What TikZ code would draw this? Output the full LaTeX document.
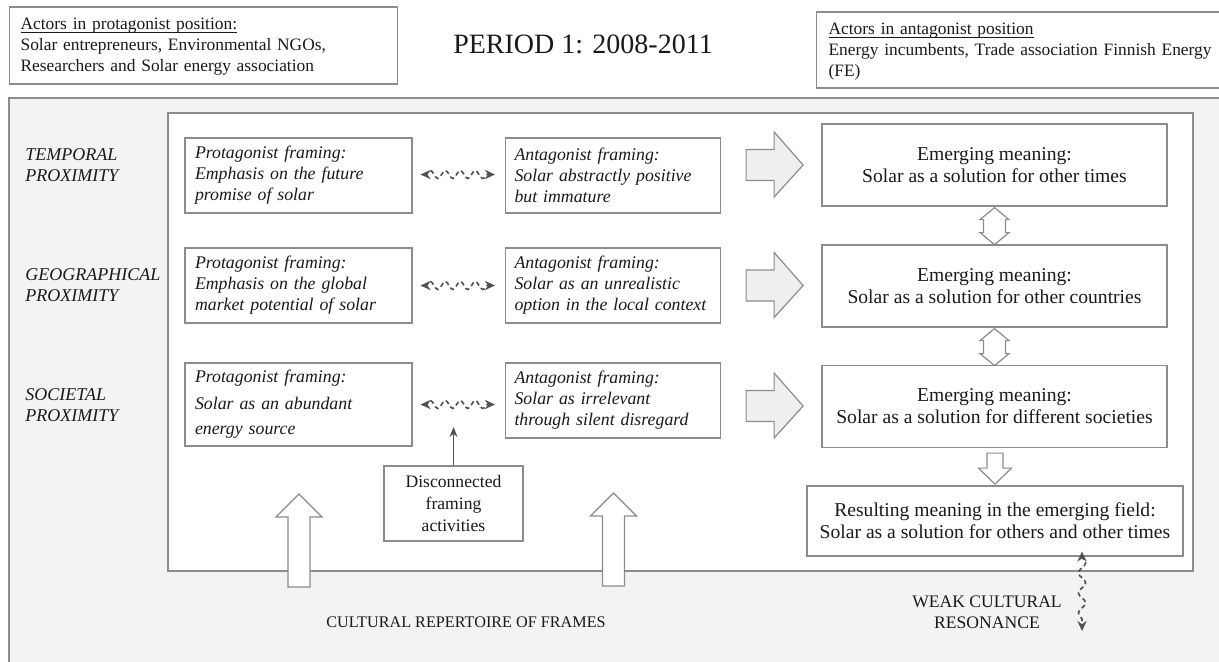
\documentclass[tikz,border=0pt]{standalone}
\usepackage{fontspec}
\setmainfont{Liberation Serif}
\usetikzlibrary{calc,decorations.pathmorphing,arrows.meta}

\definecolor{ink}{HTML}{1A1A1A}
\definecolor{edge}{HTML}{8C8C8C}
\definecolor{wave}{HTML}{505050}
\definecolor{blockfill}{HTML}{EFEFEF}
\definecolor{fieldgray}{HTML}{F3F3F3}

% underline that ignores descenders, keeping the normal line height
\newcommand{\headline}[1]{\underline{\smash{#1}}\strut}

\begin{document}
\begin{tikzpicture}[x=0.5pt,y=-0.5pt,
  box/.style={draw=edge, line width=0.6pt, fill=white, text=ink, inner sep=0pt},
  frame/.style={box, minimum height=37.5pt, align=left,
    font=\fontsize{8.9}{10.5}\selectfont\itshape},
  profr/.style={frame, text width=103.5pt, inner xsep=5pt},
  antfr/.style={frame, text width=98.5pt, inner xsep=4.5pt},
  meaning/.style={box, minimum width=172.5pt, minimum height=41pt, align=center,
    font=\fontsize{9.8}{11}\selectfont},
  rowlab/.style={anchor=west, align=left, text=ink, inner sep=0pt,
    font=\fontsize{9}{10.5}\selectfont\itshape},
  plain/.style={text=ink, inner sep=0pt, align=center},
  wavy/.style={draw=wave, line width=0.8pt, dash pattern=on 2.2pt off 1.6pt,
    decorate, decoration={snake, amplitude=2pt, segment length=7.5pt,
      pre length=2.5pt, post length=3.5pt},
    {Stealth[length=5pt,width=4.6pt]}-{Stealth[length=5pt,width=4.6pt]}},
  blk/.style={draw=edge, line width=0.6pt, fill=blockfill},
  hollow/.style={draw=edge, line width=0.6pt, fill=white},
  % right-pointing grey block arrow, origin at left end of the shaft axis
  rblock/.pic={\draw[blk] (0,-15.5) -- (28,-15.5) -- (28,-33) -- (57,0)
      -- (28,32) -- (28,15.5) -- (0,15.5) -- cycle;},
  % two-headed vertical hollow arrow, origin at upper tip
  vdouble/.pic={\draw[hollow] (0,0) -- (14.5,12) -- (11,12) -- (11,25)
      -- (14.5,25) -- (0,37) -- (-14.5,25) -- (-11,25) -- (-11,12)
      -- (-14.5,12) -- cycle;},
  % downward hollow arrow, origin at top of the shaft
  vdown/.pic={\draw[hollow] (-8,0) -- (8,0) -- (8,15) -- (16.5,15) -- (0,31)
      -- (-16.5,15) -- (-8,15) -- cycle;},
  % upward hollow arrow, origin at the tip
  vup/.pic={\draw[hollow] (0,0) -- (23,23) -- (11,23) -- (11,93) -- (-11,93)
      -- (-11,23) -- (-23,23) -- cycle;}
]
\useasboundingbox (0,0) rectangle (1219,661);
\clip (0,0) rectangle (1219,661);
\fill[white] (0,0) rectangle (1219,661);

% actor boxes and title
\node[box, anchor=west, align=left, text width=183pt, inner xsep=5.5pt,
  minimum height=38.5pt, font=\fontsize{8.7}{10.5}\selectfont] (pro) at (9,45.5)
  {\headline{Actors in protagonist position:}\\
   Solar entrepreneurs, Environmental NGOs,\\
   Researchers and Solar energy association};
\node[box, anchor=west, align=left, text width=200pt, inner xsep=6pt,
  minimum height=38pt, font=\fontsize{8.7}{10.5}\selectfont] (anta) at (816,50)
  {\headline{Actors in antagonist position}\\
   Energy incumbents, Trade association Finnish Energy\\
   (FE)};
\node[plain, font=\fontsize{14}{16}\selectfont] (title) at (583,44)
  {PERIOD 1: 2008-2011};

% shaded field and inner framing area
\fill[fieldgray] (9,98) rectangle (1240,680);
\draw[edge, line width=0.8pt] (9,680) -- (9,98) -- (1240,98);
\draw[edge, line width=0.8pt, fill=white] (168,113) rectangle (1193,571);

% row labels
\node[rowlab] (tl) at (25,165.5) {TEMPORAL\\PROXIMITY};
\node[rowlab] (gl) at (25,285.5) {GEOGRAPHICAL\\PROXIMITY};
\node[rowlab] (sl) at (25,405.5) {SOCIETAL\\PROXIMITY};

% framing boxes
\node[profr] (pro1) at (298.5,175.5)
  {Protagonist framing:\\Emphasis on the future\\promise of solar};
\node[profr] (pro2) at (298.5,285.5)
  {Protagonist framing:\\Emphasis on the global\\market potential of solar};
\node[profr, minimum height=41.5pt] (pro3) at (298.5,404.5)
  {Protagonist framing:\\[3pt]Solar as an abundant\\[2pt]energy source};

\node[antfr] (ant1) at (613,175.5)
  {Antagonist framing:\\Solar abstractly positive\\but immature};
\node[antfr] (ant2) at (613,285.5)
  {Antagonist framing:\\Solar as an unrealistic\\option in the local context};
\node[antfr] (ant3) at (613,400.5)
  {Antagonist framing:\\Solar as irrelevant\\through silent disregard};

% emerging meanings
\node[meaning] (em1) at (994.5,165)
  {Emerging meaning:\\Solar as a solution for other times};
\node[meaning] (em2) at (994.5,286)
  {Emerging meaning:\\Solar as a solution for other countries};
\node[meaning] (em3) at (994.5,406.5)
  {Emerging meaning:\\Solar as a solution for different societies};
\node[meaning, minimum width=188pt, minimum height=35pt] (res) at (995,521)
  {Resulting meaning in the emerging field:\\Solar as a solution for others and other times};

\node[box, align=center, minimum width=69.5pt, minimum height=37.5pt,
  font=\fontsize{8.8}{11}\selectfont] (disc) at (453.5,503.5)
  {Disconnected\\framing\\activities};

% wavy links between opposing framings
\draw[wavy] ($(pro1.east)+(8,-1)$) -- ($(ant1.west)+(-10,-1)$);
\draw[wavy] ($(pro2.east)+(8,0)$) -- ($(ant2.west)+(-10,0)$);
\draw[wavy] ($(pro3.east)+(8,0)$) -- ($(ant3.west |- pro3.east)+(-10,0)$);

% framings feed the emerging meanings
\pic at ($(ant1.east)+(25,-10.5)$) {rblock};
\pic at ($(ant2.east)+(25,0)$) {rblock};
\pic at ($(ant3.east)+(25,5.5)$) {rblock};

% links between emerging meanings
\pic at ($(em1.south)+(0,1)$) {vdouble};
\pic at ($(em2.south)+(0,1)$) {vdouble};
\pic at ($(em3.south)+(0.5,5)$) {vdown};

% repertoire arrows entering from below
\pic at (299,494) {vup};
\pic at (613.5,493) {vup};

% disconnected activities pointer
\coordinate (dtip) at (453.5,427);
\draw[draw=wave, line width=0.6pt, -{Stealth[length=5pt,width=4pt]}]
  (disc.north) -- (dtip);

% weak resonance
\coordinate (wtop) at ($(res.south)+(87,-5)$);
\coordinate (wbot) at (1082,631);
\draw[wavy, decoration={snake, amplitude=1.8pt, segment length=10pt,
  pre length=2.5pt, post length=3.5pt}] (wtop) -- (wbot);

\node[plain, font=\fontsize{8.1}{10.5}\selectfont] (rep) at (466,622)
  {CULTURAL REPERTOIRE OF FRAMES};
\node[plain, font=\fontsize{8.8}{10.5}\selectfont] (weak) at (987,612)
  {WEAK CULTURAL\\RESONANCE};
\end{tikzpicture}
\end{document}
